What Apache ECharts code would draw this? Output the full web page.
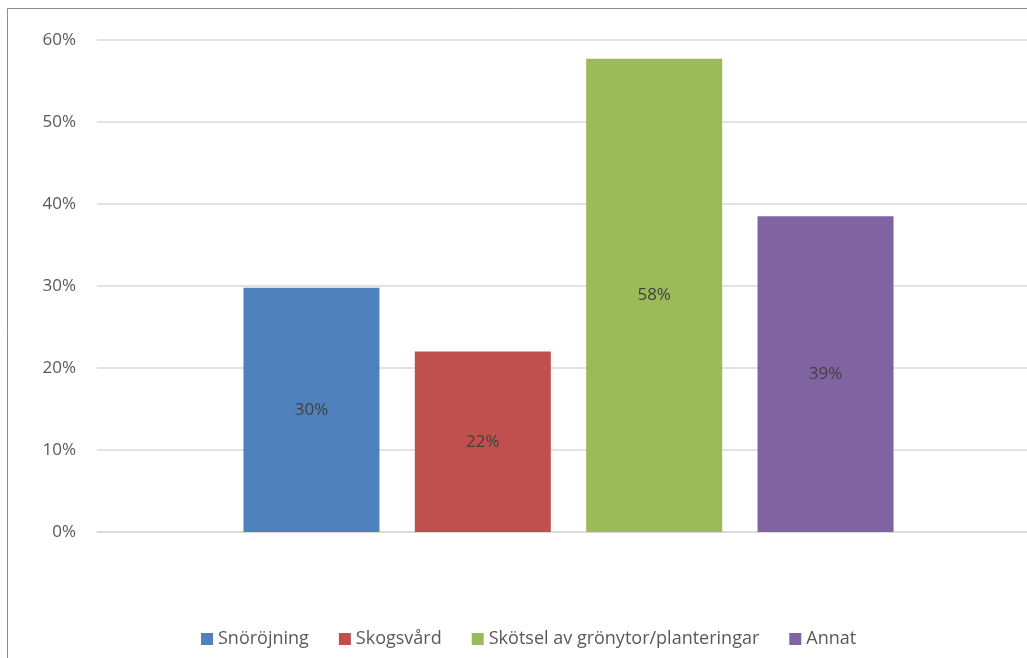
<!DOCTYPE html>
<html>
<head>
<meta charset="utf-8">
<script src="https://cdn.jsdelivr.net/npm/echarts@6/dist/echarts.min.js"></script>
<style>html,body{margin:0;padding:0;background:#fff;overflow:hidden;}#c{width:1027px;height:658px;}</style>
</head>
<body>
<div id="c"></div>
<script>
const seriesNames = ['Snöröjning', 'Skogsvård', 'Skötsel av grönytor/planteringar', 'Annat'];
const seriesValues = [29.8, 22.0, 57.7, 38.5];
const seriesLabels = ['30%', '22%', '58%', '39%'];
const seriesColors = ['#4f81bd', '#c0504d', '#9bbb59', '#8064a2'];
const categories = [''];

const chart = echarts.init(document.getElementById('c'));
const font = '"Open Sans", Lato, sans-serif';
chart.setOption({
  animation: false,
  textStyle: { fontFamily: font },
  graphic: [{
    type: 'rect', silent: true,
    shape: { x: 7.5, y: 8.5, width: 1100, height: 700 },
    style: { fill: 'none', stroke: '#8c8c8c', lineWidth: 1 }
  }],
  grid: { left: 97, top: 40, right: -13, bottom: 126, containLabel: false, outerBoundsMode: 'none' },
  legend: {
    bottom: 5, left: 196,
    itemWidth: 12, itemHeight: 12, itemGap: 30,
    icon: 'rect',
    textStyle: { fontSize: 18, color: '#595959', fontFamily: font, padding: [0, 0, 0, 0] },
    data: seriesNames
  },
  xAxis: {
    type: 'category', data: categories,
    axisLine: { show: true, lineStyle: { color: '#d9d9d9', width: 1.5 } },
    axisTick: { show: false }, axisLabel: { show: false }
  },
  yAxis: {
    type: 'value', min: 0, max: 60, interval: 10,
    axisLine: { show: false }, axisTick: { show: false },
    axisLabel: { formatter: '{value}%', fontSize: 17, color: '#595959', margin: 21, fontFamily: font },
    splitLine: { lineStyle: { color: '#d9d9d9', width: 1.5 } }
  },
  series: seriesNames.map((n, i) => ({
    name: n, type: 'bar',
    data: [seriesValues[i]],
    barWidth: 136, barGap: '26%',
    itemStyle: { color: seriesColors[i] },
    label: {
      show: true, position: 'inside',
      formatter: () => seriesLabels[i],
      color: '#404040', fontSize: 17, fontFamily: font
    }
  }))
});
</script>
</body>
</html>
